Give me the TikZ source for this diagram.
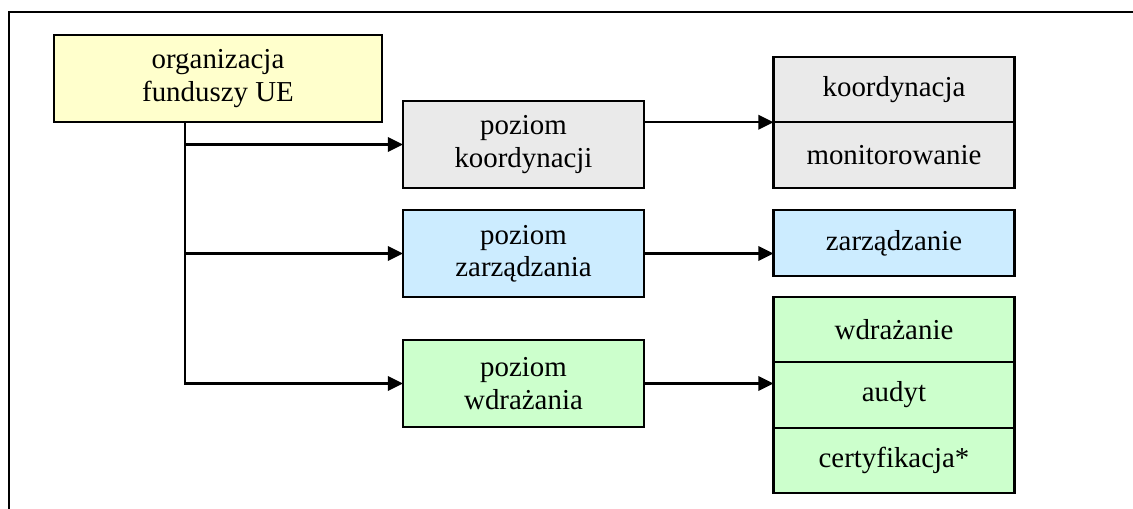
\documentclass[tikz,border=0pt]{standalone}
\usepackage{fontspec}
\setmainfont{Liberation Serif}
\usepackage{tikz}
\usetikzlibrary{arrows.meta,positioning}
\definecolor{orgfill}{RGB}{255,255,204}
\definecolor{koordfill}{RGB}{234,234,234}
\definecolor{zarzfill}{RGB}{204,236,255}
\definecolor{wdrfill}{RGB}{204,255,204}
\newcommand{\px}{0.45pt}

\begin{document}
\begin{tikzpicture}[x=0.45pt, y=-0.45pt,
    box/.style={draw, line width=1pt, outer sep=0pt, inner sep=2pt,
                align=center, font=\fontsize{13}{14.5}\selectfont,
                minimum width=241*\px, minimum height=87*\px},
    cell/.style={box, minimum height=65.5*\px},
    arr/.style={-{Triangle[length=6.8pt, width=6.5pt]}, line width=1pt},
    frame/.style={line width=1pt}
]
\useasboundingbox (0,0) rectangle (1133,509);
\draw[frame] (9,509) -- (9,12) -- (1133,12);

\node[box, fill=orgfill, minimum width=328*\px] (org) at (218,78.5)
    {organizacja\\funduszy UE};
\node[box, fill=koordfill] (koord) at (523.5,144.5) {poziom\\koordynacji};
\node[box, fill=zarzfill] (zarz) at (523.5,253.5) {poziom\\zarządzania};
\node[box, fill=wdrfill] (wdr) at (523.5,383.5) {poziom\\wdrażania};

\node[cell, fill=koordfill] (kk) at (894,89.5) {koordynacja};
\node[cell, fill=koordfill, below=0pt of kk] (mon) {monitorowanie};
\node[cell, fill=zarzfill] (zz) at (894,243) {zarządzanie};
\node[cell, fill=wdrfill] (wd) at (894,329.5) {wdrażanie};
\node[cell, fill=wdrfill, below=0pt of wd] (aud) {audyt};
\node[cell, fill=wdrfill, below=0pt of aud] (cert) {certyfikacja*};

\coordinate (trunk) at (185,122);
\draw[arr] (trunk) |- (koord);
\draw[arr] (trunk) |- (zarz);
\draw[arr] (trunk) |- (wdr);
\draw[arr] (koord.east |- kk.south west) -- (kk.south west);
\draw[arr] (zarz.east) -- (zarz.east -| zz.west);
\draw[arr] (wdr.east) -- (wdr.east -| aud.west);
\end{tikzpicture}
\end{document}
